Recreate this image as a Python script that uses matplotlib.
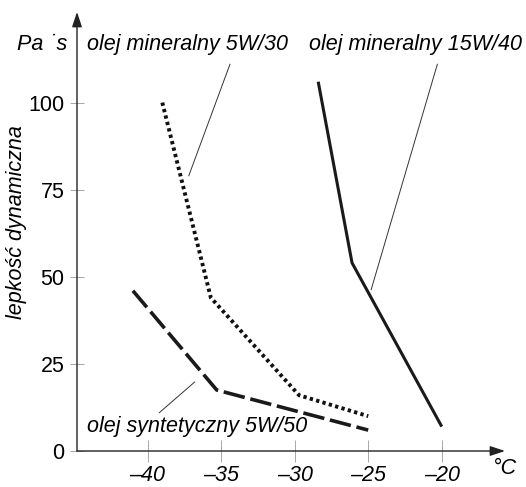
import matplotlib.pyplot as plt

plt.rcParams['font.family'] = ['Liberation Sans', 'DejaVu Sans']

# dane
t_5w30 = [-39.0, -35.7, -29.7, -25.0]
v_5w30 = [100, 44, 16, 10]

t_15w40 = [-28.4, -26.1, -20.0]
v_15w40 = [106, 54, 7]

t_5w50 = [-41.0, -35.3, -25.0]
v_5w50 = [46, 17.5, 6]

x_ticks = [-40, -35, -30, -25, -20]
x_labels = ['\u201340', '\u201335', '\u201330', '\u201325', '\u201320']
y_ticks = [0, 25, 50, 75, 100]

fig = plt.figure(figsize=(5.26, 4.87), dpi=100)
ax = fig.add_axes([77/526, 36/487, 428/526, 439/487])
ax.set_xlim(-44.8, -15.7)
ax.set_ylim(0, 126)

for s in ax.spines.values():
    s.set_visible(False)

ax.plot(t_5w30, v_5w30, color='#111111', lw=2.8, linestyle=(0, (0.85, 0.85)))
ax.plot(t_15w40, v_15w40, color='#1a1a1a', lw=2.2, solid_capstyle='butt')
ax.plot(t_5w50, v_5w50, color='#1a1a1a', lw=2.6, linestyle=(0, (6, 1.6)))

# linie odnośników
ax.plot([-34.4, -37.2], [111, 79], color='#333333', lw=0.7)
ax.plot([-20.3, -24.8], [111, 46.3], color='#333333', lw=0.7)
ax.plot([-36.8, -39.2], [19.8, 11], color='#333333', lw=0.7)

fs = 15.5
ax.text(-44.1, 116.7, 'olej mineralny 5W/30', fontsize=fs, style='italic',
        va='center', ha='left')
ax.text(-29.0, 116.7, 'olej mineralny 15W/40', fontsize=fs, style='italic',
        va='center', ha='left')
ax.text(-44.1, 6.9, 'olej syntetyczny 5W/50', fontsize=fs, style='italic',
        va='center', ha='left')

# osie ze strzałkami
ax.annotate('', xy=(1.0, 0), xytext=(0, 0), xycoords='axes fraction',
            arrowprops=dict(arrowstyle='-|>,head_length=0.9,head_width=0.3',
                            color='#222222', lw=1.0, shrinkA=0, shrinkB=0))
ax.annotate('', xy=(0, 1.0), xytext=(0, 0), xycoords='axes fraction',
            arrowprops=dict(arrowstyle='-|>,head_length=0.9,head_width=0.3',
                            color='#222222', lw=1.0, shrinkA=0, shrinkB=0))

ax.set_xticks(x_ticks)
ax.set_xticklabels(x_labels, fontsize=fs, style='italic')
ax.set_yticks(y_ticks)
ax.set_yticklabels([str(v) for v in y_ticks], fontsize=fs)
ax.tick_params(axis='x', direction='inout', length=16, width=0.6,
               color='#999999', pad=2)
ax.tick_params(axis='y', direction='inout', length=10, width=0.6,
               color='#999999', pad=4)

fig.text(17/526, 1 - 222/487, 'lepkość dynamiczna', fontsize=fs,
         style='italic', rotation=90, ha='center', va='center')
fig.text(42/526, 1 - 45/487, 'Pa \u02d9s', fontsize=fs, style='italic',
         ha='center', va='center')
fig.text(505/526, 1 - 468/487, '°C', fontsize=fs, style='italic',
         ha='center', va='center')

fig.savefig('out.png', dpi=100)
